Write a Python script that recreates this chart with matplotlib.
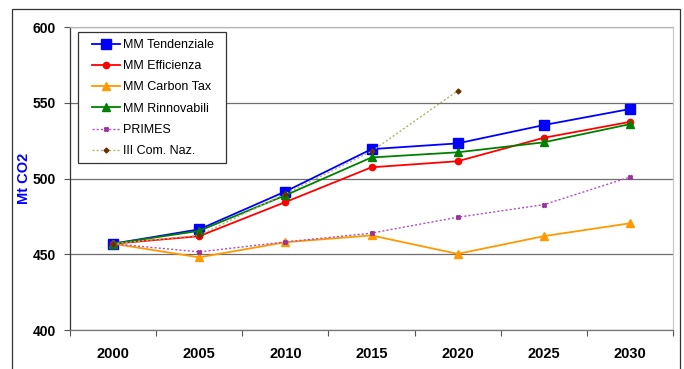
import matplotlib
matplotlib.use("Agg")
import matplotlib.pyplot as plt
from matplotlib.patches import Rectangle

plt.rcParams['font.family'] = ['Liberation Sans', 'DejaVu Sans']

years = ["2000", "2005", "2010", "2015", "2020", "2025", "2030"]

mm_tendenziale = [457, 466.5, 491.5, 519.5, 523.3, 535.4, 546]
mm_efficienza = [457, 462, 484.5, 507.5, 511.5, 527, 537.5]
mm_carbon_tax = [457, 448, 458, 462.5, 450.3, 462, 470.5]
mm_rinnovabili = [457, 465.5, 489, 514, 517.4, 524, 536]
primes = [457, 451.6, 458.2, 464, 474.5, 482.8, 501]
com_naz = [457, 462.5, 490, 518, 558]

y_ticks = [400, 450, 500, 550, 600]

W, H = 684, 369
fig = plt.figure(figsize=(W / 100, H / 100), dpi=100)


def fx(px):
    return px / W


def fy(py):
    return 1 - py / H


# outer chart frame
fig.patches.append(Rectangle((fx(12), -0.1), fx(680 - 12), 1.1 - 9 / H,
                             transform=fig.transFigure, fill=False,
                             edgecolor='#333333', linewidth=0.9))

ax = fig.add_axes([fx(70), fy(330), fx(673 - 70), (330 - 27.3) / H])

x = list(range(len(years)))

ax.plot(x, mm_tendenziale, color='#0000ff', lw=1.3, marker='s', ms=6.5,
        mec='#0000ff', mfc='#0000ff', label='MM Tendenziale', zorder=3)
ax.plot(x, mm_efficienza, color='#ff0000', lw=1.3, marker='o', ms=4.5,
        mec='#ff0000', mfc='#ff0000', label='MM Efficienza', zorder=3)
ax.plot(x, mm_carbon_tax, color='#ff9900', lw=1.3, marker='^', ms=6,
        mec='#ff9900', mfc='#ff9900', label='MM Carbon Tax', zorder=3)
ax.plot(x, mm_rinnovabili, color='#008000', lw=1.3, marker='^', ms=5.5,
        mec='#008000', mfc='#008000', label='MM Rinnovabili', zorder=3)
ax.plot(x, primes, color='#b050c0', lw=1.0, ls=(0, (1.5, 1.5)), marker='X',
        ms=3, mec='#993399', mfc='#993399', label='PRIMES', zorder=3)
ax.plot(x[:len(com_naz)], com_naz, color='#b8b070', lw=1.0, ls=(0, (1.5, 1.5)),
        marker='D', ms=2.5, mec='#663300', mfc='#663300',
        label='III Com. Naz.', zorder=3)

ax.set_xlim(-0.5, len(years) - 0.5)
ax.set_ylim(400, 600)
ax.set_yticks(y_ticks)
ax.set_yticklabels([str(v) for v in y_ticks], fontsize=10, fontweight='bold')

# category boundaries carry the tick marks, labels sit at the centres
ax.set_xticks([i - 0.5 for i in range(len(years) + 1)])
ax.set_xticklabels([])
ax.set_xticks(x, minor=True)
ax.set_xticklabels(years, minor=True, fontsize=10.5, fontweight='bold')
ax.tick_params(axis='x', which='major', length=4, width=0.8, color='#555555', direction='out')
ax.tick_params(axis='x', which='minor', length=0, pad=12)
ax.tick_params(axis='y', length=4, width=0.8, color='#555555', direction='out', pad=6)

ax.yaxis.grid(True, color='#6e6e6e', lw=0.9)
ax.set_axisbelow(True)
ax.spines['left'].set_color('#333333')
ax.spines['bottom'].set_color('#777777')
ax.spines['top'].set_color('#b8b8b8')
ax.spines['right'].set_color('#c8c8c8')
for s in ax.spines.values():
    s.set_linewidth(0.9)

ax.set_ylabel('Mt CO2', color='#0000ff', fontsize=10.5, fontweight='bold')
ax.yaxis.set_label_coords(fx(31), fy(178.6), transform=fig.transFigure)

# legend box drawn separately so its padding can be set per side
ax.add_patch(Rectangle((fx(78), fy(163.3)), fx(226 - 78), (163.3 - 32.3) / H,
                       transform=fig.transFigure, facecolor='white',
                       edgecolor='#333333', linewidth=0.9, zorder=4,
                       clip_on=False))
leg = ax.legend(loc='upper left', bbox_to_anchor=(fx(92), fy(38.9)),
                bbox_transform=fig.transFigure, fontsize=9, frameon=False,
                handlelength=2.24, handletextpad=0.25, labelspacing=0.74,
                borderpad=0, borderaxespad=0)
leg.set_zorder(5)

fig.savefig('out.png', dpi=100)
